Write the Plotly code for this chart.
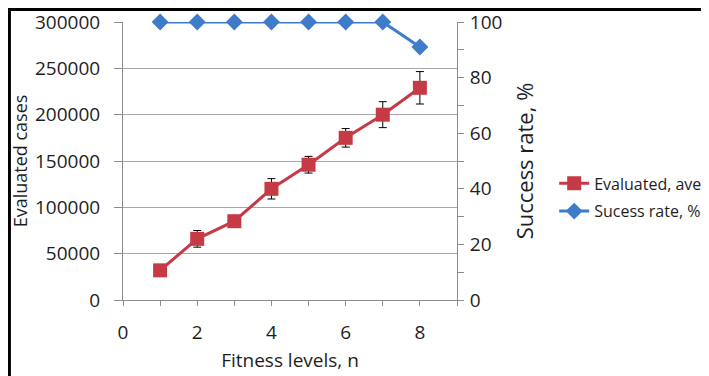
import plotly.graph_objects as go

levels = [1, 2, 3, 4, 5, 6, 7, 8]
evaluated = [32000, 66000, 85000, 120000, 146000, 175000, 200000, 229000]
evaluated_err = [3000, 9000, 3500, 11000, 9000, 10000, 14000, 17500]
success = [100, 100, 100, 100, 100, 100, 100, 91]

RED = "#C53A44"
BLUE = "#3E7CC9"
FONT = "Open Sans"
TXT = "#1e1e1e"
AX = "#8c8c8c"

fig = go.Figure()
fig.add_trace(go.Scatter(
    x=levels, y=evaluated, name="Evaluated, average", legendgroup="a",
    mode="lines+markers",
    line=dict(color=RED, width=3),
    marker=dict(symbol="square", size=14, color=RED),
    error_y=dict(type="data", array=evaluated_err, visible=True, color="black", thickness=1, width=4),
))
fig.add_trace(go.Scatter(
    x=levels, y=success, name="Sucess rate, %", legendgroup="b", yaxis="y2",
    mode="lines+markers",
    line=dict(color=BLUE, width=3),
    marker=dict(symbol="diamond", size=13, color=BLUE),
    cliponaxis=False,
))

fig.update_layout(
    width=709, height=376,
    margin=dict(l=115, r=260, t=14, b=84, autoexpand=False),
    paper_bgcolor="white", plot_bgcolor="white",
    font=dict(family=FONT, size=19, color=TXT),
    xaxis=dict(
        range=[0, 9], tickmode="array", tickvals=[0, 2, 4, 6, 8],
        ticks="outside", ticklen=5, tickcolor=AX, ticklabelstandoff=10,
        minor=dict(dtick=1, ticks="outside", ticklen=5, tickcolor=AX),
        showline=True, linecolor=AX, linewidth=1,
        showgrid=False, zeroline=False,
        title=dict(text="Fitness levels, n", font=dict(size=19), standoff=9),
    ),
    yaxis=dict(
        range=[0, 300000], dtick=50000, tickformat="d",
        ticks="outside", ticklen=8, tickcolor=AX, ticklabelstandoff=10,
        showline=True, linecolor=AX, linewidth=1,
        showgrid=True, gridcolor="#A8A8A8", gridwidth=1, zeroline=False,
        title=dict(text="Evaluated cases", font=dict(size=18), standoff=6),
    ),
    yaxis2=dict(
        range=[0, 100], dtick=20, overlaying="y", side="right",
        ticks="outside", ticklen=6, tickcolor=AX, ticklabelstandoff=2,
        minor=dict(dtick=10, ticks="outside", ticklen=6, tickcolor=AX),
        showline=True, linecolor=AX, linewidth=1,
        showgrid=False, zeroline=False,
        title=dict(text="Success rate, %", font=dict(size=22), standoff=16),
    ),
    legend=dict(
        x=1.291, y=0.369, xanchor="left", yanchor="middle",
        font=dict(size=16, color=TXT), tracegroupgap=4,
        bgcolor="rgba(0,0,0,0)",
    ),
    shapes=[dict(
        type="rect", xref="paper", yref="paper",
        x0=-0.34, x1=1.80, y0=-0.33, y1=1.045,
        line=dict(color="black", width=3), layer="above",
    )],
)

fig.write_html("out.html")
